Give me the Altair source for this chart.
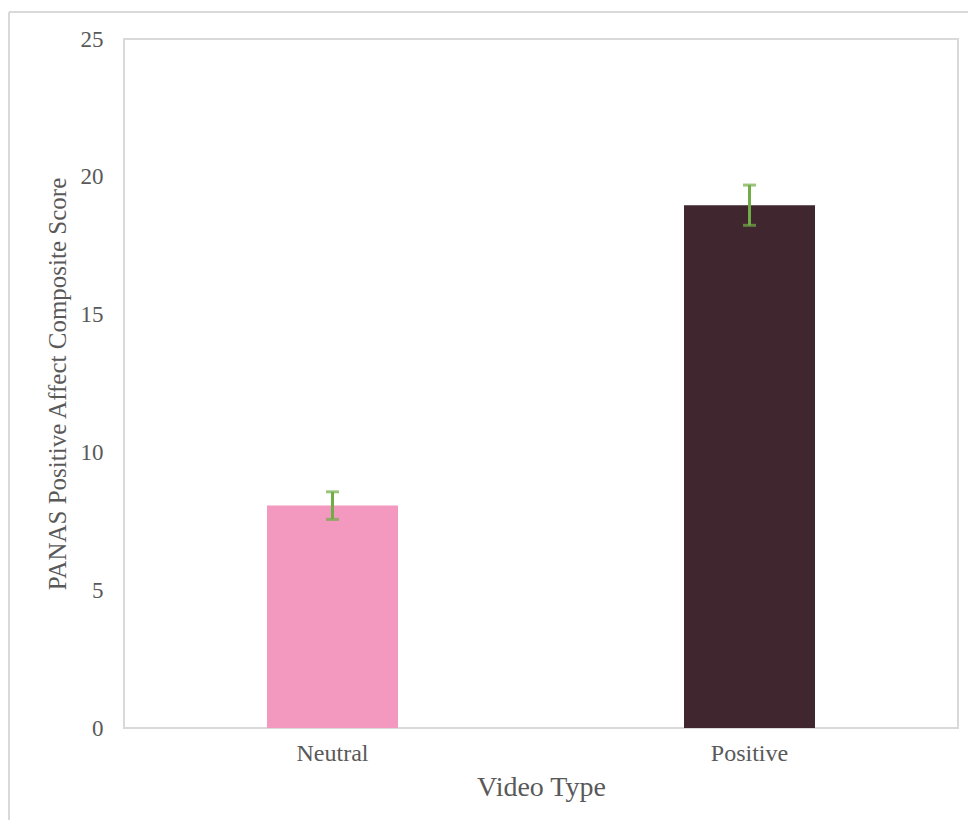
import altair as alt
import pandas as pd

categories = ["Neutral", "Positive"]
means = [8.07, 18.97]
errors = [0.50, 0.73]
bar_colors = ["#F398BF", "#3F262F"]
y_ticks = [0, 5, 10, 15, 20, 25]

df = pd.DataFrame({"type": categories, "score": means, "err": errors})
df["lo"] = df["score"] - df["err"]
df["hi"] = df["score"] + df["err"]

FONT = "Liberation Serif"
GREY = "#595959"
GREEN = "#70AD47"

x_enc = alt.X(
    "type:N",
    title="Video Type",
    sort=categories,
    scale=alt.Scale(paddingInner=0, paddingOuter=0),
    axis=alt.Axis(
        labelAngle=0, labelFont=FONT, labelFontSize=24, labelColor=GREY,
        labelPadding=13, titleFont=FONT, titleFontSize=28, titleColor=GREY,
        titleFontWeight="normal", titlePadding=8, ticks=False, domain=False,
    ),
)
y_scale = alt.Scale(domain=[0, 25], nice=False, zero=True)
y_axis = alt.Axis(
    values=y_ticks, grid=False, ticks=False, domain=False,
    labelFont=FONT, labelFontSize=23, labelColor=GREY, labelPadding=21,
    titleFont=FONT, titleFontSize=25, titleColor=GREY, titleFontWeight="normal",
    titlePadding=10,
)

base = alt.Chart(df)

bars = base.mark_bar(size=131).encode(
    x=x_enc,
    y=alt.Y("score:Q", title="PANAS Positive Affect Composite Score", scale=y_scale, axis=y_axis),
    color=alt.Color("type:N", scale=alt.Scale(domain=categories, range=bar_colors), legend=None),
)

err_rule = base.mark_rule(color=GREEN, strokeWidth=3).encode(
    x=alt.X("type:N", sort=categories),
    y=alt.Y("lo:Q"),
    y2="hi:Q",
)
cap_lo = base.mark_tick(color=GREEN, size=13, thickness=3).encode(
    x=alt.X("type:N", sort=categories), y=alt.Y("lo:Q")
)
cap_hi = base.mark_tick(color=GREEN, size=13, thickness=3).encode(
    x=alt.X("type:N", sort=categories), y=alt.Y("hi:Q")
)

frame_data = alt.Data(values=[{"a": 1}])
frame_left = alt.Chart(frame_data).mark_rule(color="#D9D9D9", strokeWidth=2).encode(
    x=alt.value(-115), y=alt.value(-27), y2=alt.value(900)
)
frame_top = alt.Chart(frame_data).mark_rule(color="#D9D9D9", strokeWidth=2).encode(
    x=alt.value(-115), x2=alt.value(900), y=alt.value(-27)
)

chart = alt.layer(frame_left, frame_top, bars, err_rule, cap_lo, cap_hi).properties(
    width=834,
    height=689,
    autosize=alt.AutoSizeParams(type="none"),
    padding={"left": 116, "top": 31, "right": 10, "bottom": 92},
    background="white",
).configure_view(stroke="#D9D9D9", strokeWidth=2)

chart.save("out.html", embed_options={"renderer": "svg", "actions": False})
